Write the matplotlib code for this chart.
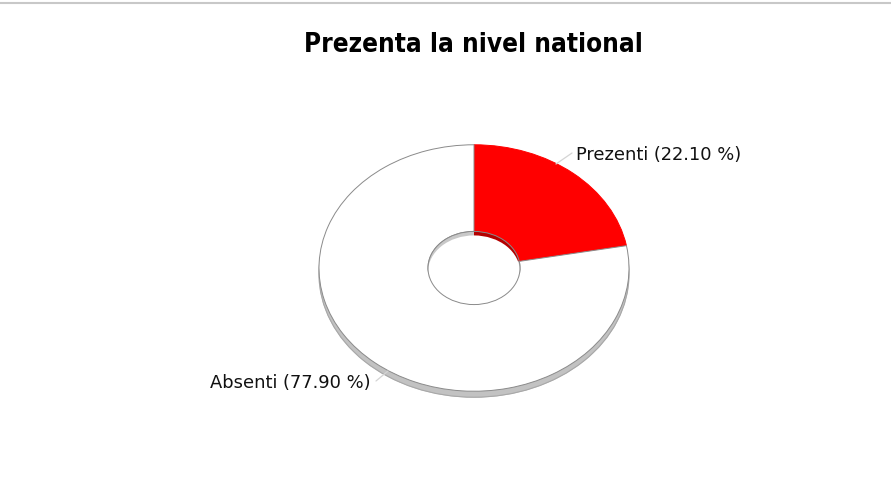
import numpy as np
import matplotlib
matplotlib.use("Agg")
import matplotlib.pyplot as plt
from matplotlib.patches import Ellipse

labels = ["Prezenti", "Absenti"]
shares = [22.10, 77.90]
colors = ["#ff0000", "#ffffff"]
wall_colors = ["#b40000", "#c8c8c8"]
title = "Prezenta la nivel national"

W, H = 891, 500
S = 0.795  # vertical squash of the tilted ring


def px(x, y):
    # pixel position (origin top-left) -> data coords
    return x, (H - y) / S


fig = plt.figure(figsize=(W / 100, H / 100), dpi=100)
ax = fig.add_axes([0, 0, 1, 1])

cx, cy = px(474, 268)
R = 155
r_in = 46
depth = 6 / S

# shadow under the ring
ax.pie(shares, colors=["#c2c2c2"] * len(shares), radius=R, center=(cx, cy - depth),
       startangle=90, counterclock=False,
       wedgeprops=dict(width=R - r_in, edgecolor="#c2c2c2", linewidth=0.6))
ax.add_patch(Ellipse((cx, cy - depth), 2 * R, 2 * R, fill=False,
                     edgecolor="#a8a8a8", linewidth=0.8))

# top surface
wedges, _ = ax.pie(shares, colors=colors, radius=R, center=(cx, cy),
                   startangle=90, counterclock=False,
                   wedgeprops=dict(width=R - r_in, linewidth=0.7))
wedges[0].set_edgecolor("#ff0000")
wedges[1].set_edgecolor("#8a8a8a")

# inner wall seen through the hole
ax.pie(shares, colors=wall_colors, radius=r_in, center=(cx, cy),
       startangle=90, counterclock=False, wedgeprops=dict(linewidth=0))
ax.add_patch(Ellipse((cx, cy - 4 / S), 2 * r_in, 2 * r_in, facecolor="white",
                     edgecolor="none"))
ax.add_patch(Ellipse((cx, cy), 2 * r_in, 2 * r_in, fill=False,
                     edgecolor="#8a8a8a", linewidth=0.7))

ax.set_xlim(0, W)
ax.set_ylim(0, H / S)
ax.set_aspect("auto")
ax.axis("off")

# labels with short leader lines to the ring edge
label_pos = [(576, 155, "left"), (371, 383, "right")]
anchors = [(556, 164), (388, 371)]
for lab, val, (lx, ly, ha), (ax_, ay_) in zip(labels, shares, label_pos, anchors):
    tx, ty = px(lx + (-4 if ha == "left" else 5), ly - 2)
    ax.annotate("", xy=px(ax_, ay_), xytext=(tx, ty),
                arrowprops=dict(arrowstyle="-", color="#d4d4d4", linewidth=0.9,
                                shrinkA=0, shrinkB=0))
    ax.text(*px(lx, ly), f"{lab} ({val:.2f} %)", ha=ha, va="center",
            fontsize=12.9, color="#111111", family="DejaVu Sans")

fig.text(473 / W, 1 - 45 / H, title, ha="center", va="center",
         fontsize=18.7, fontweight="bold", family="DejaVu Sans",
         fontstretch="condensed")

# thin frame line at the top
fig.add_artist(plt.Line2D([0, 1], [1 - 2.5 / H, 1 - 2.5 / H],
                          transform=fig.transFigure, color="#c8c8c8", linewidth=1.5))

fig.savefig("out.png", dpi=100, facecolor="white")
